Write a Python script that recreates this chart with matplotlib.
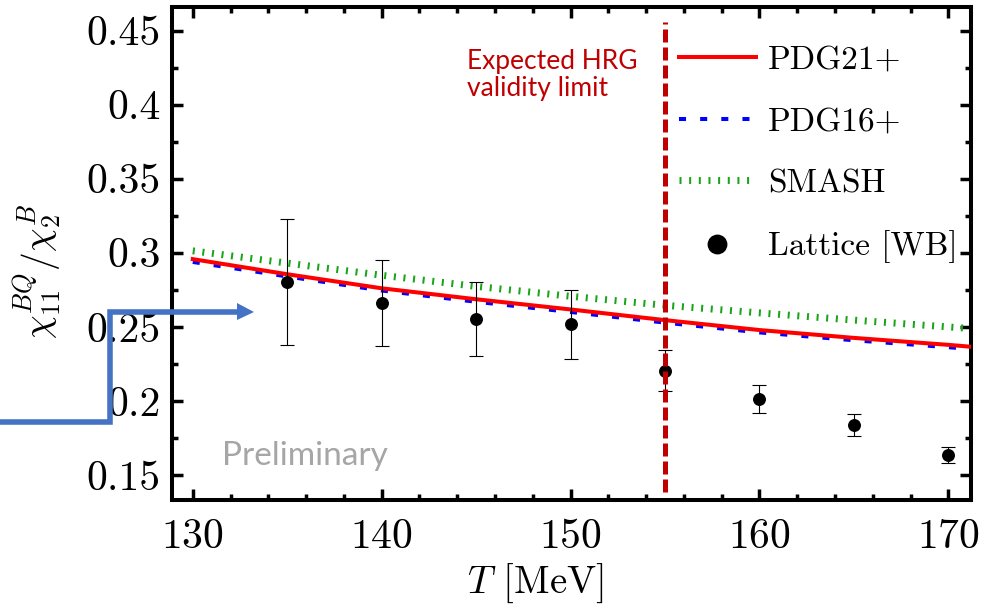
"""
Baryon-charge correlator ratio vs temperature: HRG lists vs lattice.
"""

import matplotlib
matplotlib.use("Agg")
import matplotlib.pyplot as plt
from matplotlib.lines import Line2D
from matplotlib.patches import Polygon
from matplotlib.ticker import MultipleLocator, FuncFormatter

# temperatures for the model curves (last point sits on the right edge)
T_curve = [130, 135, 140, 145, 150, 155, 160, 165, 170, 171.2]
pdg21 = [0.2957, 0.2855, 0.2760, 0.2686, 0.2617, 0.2545, 0.2478, 0.2425, 0.2378, 0.2365]
pdg16 = [0.2938, 0.2840, 0.2745, 0.2669, 0.2600, 0.2528, 0.2462, 0.2409, 0.2362, 0.2350]
smash = [0.3013, 0.2930, 0.2848, 0.2773, 0.2706, 0.2645, 0.2594, 0.2545, 0.2499, 0.2488]

# lattice data (WB)
T_lat = [135, 140, 145, 150, 155, 160, 165, 170]
lat = [0.2803, 0.2658, 0.2553, 0.2518, 0.2202, 0.2013, 0.1838, 0.1635]
lat_err = [0.0425, 0.0290, 0.0252, 0.0233, 0.0138, 0.0095, 0.0074, 0.0055]

hrg_limit = 155
hrg_span = (0.1387, 0.456)

plt.rcParams["font.family"] = "serif"
plt.rcParams["font.serif"] = ["cmr10"]
plt.rcParams["mathtext.fontset"] = "cm"
plt.rcParams["axes.formatter.use_mathtext"] = True

W, H = 1007, 613
fig = plt.figure(figsize=(W / 100, H / 100), dpi=100)
ax = fig.add_axes([172 / W, 1 - 500 / H, 799 / W, 493 / H])

ax.plot(T_curve, pdg16, color="#0000ff", lw=2.9, ls=(0, (1.75, 3.5)),
        label="PDG16+", zorder=2)
ax.plot(T_curve, pdg21, color="#ff0000", lw=2.9, label="PDG21+", zorder=3)
ax.plot(T_curve, smash, color="#19a519", lw=5, ls=(0, (0.29, 1.1)),
        label="SMASH", zorder=2)
ax.errorbar(T_lat, lat, yerr=lat_err, fmt="none", ecolor="black",
            elinewidth=0.8, capsize=4.7, capthick=0.8, zorder=4)
ax.plot(T_lat, lat, "o", color="black", ms=8.3, label="Lattice [WB]", zorder=5)

ax.vlines(hrg_limit, *hrg_span, color="#c00000", lw=3.6,
          linestyles=[(0, (2.6, 1.0))], zorder=6)

ax.set_xlim(128.9, 171.2)
ax.set_ylim(0.133, 0.466)
ax.xaxis.set_major_locator(MultipleLocator(10))
ax.xaxis.set_minor_locator(MultipleLocator(2))
ax.yaxis.set_major_locator(MultipleLocator(0.05))
ax.yaxis.set_minor_locator(MultipleLocator(0.025))
ax.yaxis.set_major_formatter(FuncFormatter(lambda v, p: f"{v:g}"))

for s in ax.spines.values():
    s.set_linewidth(2.9)
ax.tick_params(which="both", direction="in", top=True, right=True,
               labelsize=30, width=2.5)
ax.tick_params(which="major", length=8)
ax.tick_params(which="minor", length=4.5)
ax.tick_params(axis="x", pad=13)
ax.tick_params(axis="y", pad=8)

ax.set_xlabel(r"$T$ [MeV]", fontsize=28)
ax.xaxis.set_label_coords((535 - 172) / 799, -0.125)
ax.set_ylabel(r"$\chi_{11}^{BQ}/\chi_2^B$", fontsize=27)
ax.yaxis.set_label_coords(-0.135, 0.4645)

handles, labels = ax.get_legend_handles_labels()
order = ["PDG21+", "PDG16+", "SMASH", "Lattice [WB]"]
hmap = dict(zip(labels, handles))
ax.legend([hmap[k] for k in order], order, loc="upper left",
          bbox_to_anchor=(0.6345, 0.922), frameon=False, fontsize=24,
          borderpad=0, borderaxespad=0, handlelength=2.3,
          handletextpad=0.36, labelspacing=0.97, markerscale=1.6)

ax.text(0.369, 0.915, "Expected HRG\nvalidity limit", transform=ax.transAxes,
        color="#c00000", fontsize=19, family="Lato", va="top", ha="left",
        linespacing=1.12)
ax.text(0.0626, 0.071, "Preliminary", transform=ax.transAxes,
        color="#a6a6a6", fontsize=24, family="Lato", va="baseline", ha="left")

# blue pointer arrow drawn over the figure
px = [0, 110, 110, 238]
py = [422, 422, 312, 312]
fig.add_artist(Line2D([x / W for x in px], [1 - y / H for y in py],
                      transform=fig.transFigure, color="#4472c4", lw=4,
                      solid_joinstyle="miter", solid_capstyle="butt"))
head = [(237, 303), (254, 312), (237, 320)]
fig.add_artist(Polygon([(x / W, 1 - y / H) for x, y in head], closed=True,
                       transform=fig.transFigure, color="#4472c4", lw=0))

fig.savefig("out.png", dpi=100)
